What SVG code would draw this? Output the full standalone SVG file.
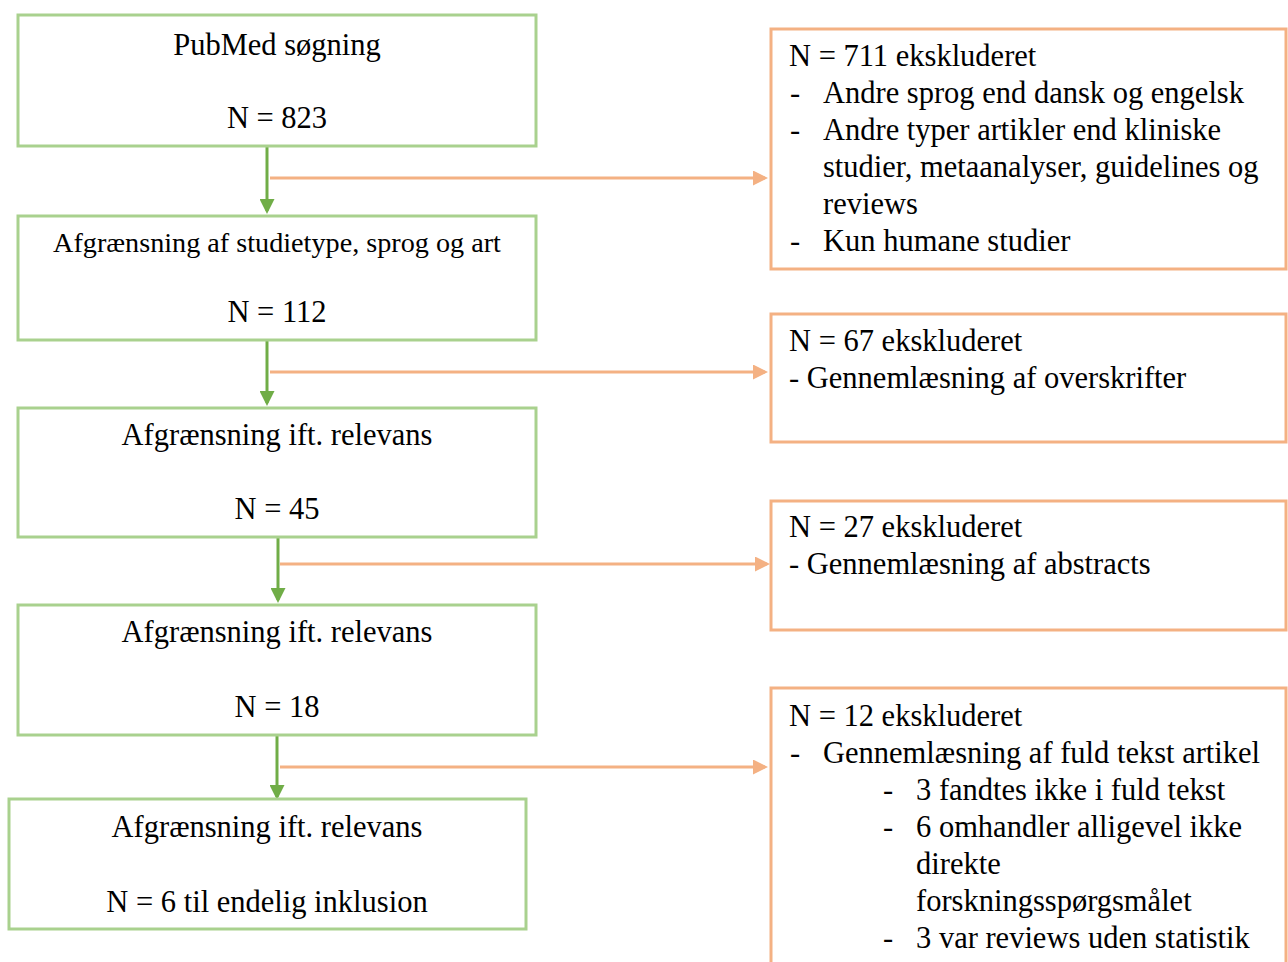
<svg xmlns="http://www.w3.org/2000/svg" width="1288" height="962" viewBox="0 0 1288 962">
<defs>
<style>
.g{fill:#fff;stroke:#a9d18e;stroke-width:3}
.o{fill:#fff;stroke:#f4b183;stroke-width:3}
text{font-family:"Liberation Serif","Times New Roman",serif;font-size:30.5px;fill:#000}
.c{text-anchor:middle}
.s{font-size:28.2px}
.ga{stroke:#70ad47;stroke-width:3;fill:none;marker-end:url(#ag)}
.oa{stroke:#f4b183;stroke-width:3;fill:none;marker-end:url(#ao)}
</style>
<marker id="ag" markerWidth="5" markerHeight="5" refX="4" refY="2.5" orient="auto" markerUnits="strokeWidth"><path d="M0,0L5,2.5L0,5z" fill="#70ad47"/></marker>
<marker id="ao" markerWidth="5" markerHeight="5" refX="4" refY="2.5" orient="auto" markerUnits="strokeWidth"><path d="M0,0L5,2.5L0,5z" fill="#f4b183"/></marker>
</defs>
<rect width="1288" height="962" fill="#fff"/>
<g id="connectors">
<path class="ga" d="M267,147V211"/>
<path class="ga" d="M267,341V403"/>
<path class="ga" d="M278,538V600"/>
<path class="ga" d="M277,736V797"/>
<path class="oa" d="M270,178H765"/>
<path class="oa" d="M270,372H765"/>
<path class="oa" d="M280,564H767"/>
<path class="oa" d="M280,767H765"/>
</g>
<g id="n1"><rect class="g" x="18" y="15" width="518" height="131"/>
<text class="c" x="277" y="55">PubMed søgning</text><text class="c" x="277" y="128">N = 823</text></g>
<g id="n2"><rect class="g" x="18" y="216" width="518" height="124"/>
<text class="c s" x="277" y="252">Afgrænsning af studietype, sprog og art</text><text class="c" x="277" y="322">N = 112</text></g>
<g id="n3"><rect class="g" x="18" y="408" width="518" height="129"/>
<text class="c" x="277" y="445">Afgrænsning ift. relevans</text><text class="c" x="277" y="519">N = 45</text></g>
<g id="n4"><rect class="g" x="18" y="605" width="518" height="130"/>
<text class="c" x="277" y="642">Afgrænsning ift. relevans</text><text class="c" x="277" y="717">N = 18</text></g>
<g id="n5"><rect class="g" x="9" y="799" width="517" height="130"/>
<text class="c" x="267" y="837">Afgrænsning ift. relevans</text><text class="c" x="267" y="912">N = 6 til endelig inklusion</text></g>
<g id="e1"><rect class="o" x="771" y="29" width="515" height="240"/>
<text x="789" y="66">N = 711 ekskluderet</text>
<text x="790" y="103">-</text><text x="823" y="103">Andre sprog end dansk og engelsk</text>
<text x="790" y="140">-</text><text x="823" y="140">Andre typer artikler end kliniske</text>
<text x="823" y="177">studier, metaanalyser, guidelines og</text>
<text x="823" y="214">reviews</text>
<text x="790" y="251">-</text><text x="823" y="251">Kun humane studier</text></g>
<g id="e2"><rect class="o" x="771" y="314" width="515" height="128"/>
<text x="789" y="351">N = 67 ekskluderet</text>
<text x="789" y="388">- Gennemlæsning af overskrifter</text></g>
<g id="e3"><rect class="o" x="771" y="501" width="515" height="129"/>
<text x="789" y="537">N = 27 ekskluderet</text>
<text x="789" y="574">- Gennemlæsning af abstracts</text></g>
<g id="e4"><rect class="o" x="771" y="688" width="515" height="300"/>
<text x="789" y="726">N = 12 ekskluderet</text>
<text x="790" y="763">-</text><text x="823" y="763">Gennemlæsning af fuld tekst artikel</text>
<text x="883" y="800">-</text><text x="916" y="800">3 fandtes ikke i fuld tekst</text>
<text x="883" y="837">-</text><text x="916" y="837">6 omhandler alligevel ikke</text>
<text x="916" y="874">direkte</text>
<text x="916" y="911">forskningsspørgsmålet</text>
<text x="883" y="948">-</text><text x="916" y="948">3 var reviews uden statistik</text></g>
</svg>
